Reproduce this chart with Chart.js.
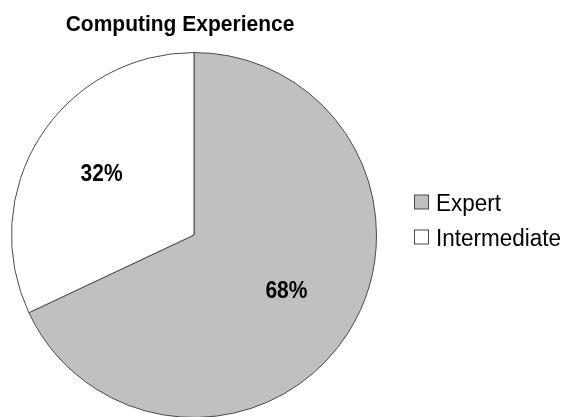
<!DOCTYPE html>
<html>
<head>
<meta charset="utf-8">
<title>Computing Experience</title>
<script src="https://cdn.jsdelivr.net/npm/chart.js@4"></script>
<style>
  html, body { margin: 0; padding: 0; background: #fff; overflow: hidden; }
  #wrap { width: 568px; height: 417px; overflow: hidden; }
  canvas { display: block; }
</style>
</head>
<body>
<div id="wrap"><canvas id="pieChart" width="568" height="420"></canvas></div>
<script>
// Data
const chartTitle = 'Computing Experience';
const categories = ['Expert', 'Intermediate'];
const shares = [68, 32];
const sliceColors = ['#c0c0c0', '#ffffff'];
const edgeColor = '#4a4a4a';
const fontFamily = '"Liberation Sans", Arial, Helvetica, sans-serif';

// text drawn slightly taller than the font's natural shape
function tallText(ctx, text, x, y, stretch) {
    ctx.save();
    ctx.translate(x, y);
    ctx.scale(1, stretch);
    ctx.fillText(text, 0, 0);
    ctx.restore();
}

// Title, legend and percentage labels are painted by hand
const decorations = {
    id: 'decorations',
    afterDatasetsDraw(chart) {
        const ctx = chart.ctx;
        const meta = chart.getDatasetMeta(0);
        const total = shares.reduce((a, b) => a + b, 0);

        ctx.save();
        ctx.fillStyle = '#000';
        ctx.font = 'bold 21px ' + fontFamily;
        ctx.textAlign = 'center';
        ctx.textBaseline = 'middle';
        meta.data.forEach((arc, i) => {
            const mid = (arc.startAngle + arc.endAngle) / 2;
            const r = arc.outerRadius * 0.6;
            const x = arc.x + Math.cos(mid) * r;
            const y = arc.y + Math.sin(mid) * r;
            tallText(ctx, Math.round(shares[i] / total * 100) + '%', x, y - 2, 1.12);
        });
        ctx.restore();
    },
    afterDraw(chart) {
        const ctx = chart.ctx;
        ctx.save();

        // title
        ctx.fillStyle = '#000';
        ctx.font = 'bold 21px ' + fontFamily;
        ctx.textAlign = 'center';
        ctx.textBaseline = 'alphabetic';
        tallText(ctx, chartTitle, 180, 31, 1.08);

        // legend
        ctx.font = '22.5px ' + fontFamily;
        ctx.textAlign = 'left';
        ctx.textBaseline = 'alphabetic';
        categories.forEach((name, i) => {
            const y = 202 + i * 35;
            ctx.fillStyle = sliceColors[i];
            ctx.fillRect(414.5, y - 7, 14, 14);
            ctx.strokeStyle = edgeColor;
            ctx.lineWidth = 1;
            ctx.strokeRect(414.5, y - 7, 14, 14);
            ctx.fillStyle = '#000';
            tallText(ctx, name, 436, y + 9, 1.05);
        });
        ctx.restore();
    }
};

new Chart(document.getElementById('pieChart'), {
    type: 'pie',
    data: {
        labels: categories,
        datasets: [{
            data: shares,
            backgroundColor: sliceColors,
            borderColor: edgeColor,
            borderWidth: 1,
            hoverOffset: 0
        }]
    },
    options: {
        responsive: false,
        animation: false,
        devicePixelRatio: 1,
        layout: {
            padding: { left: 11, top: 52, right: 191, bottom: 2 }
        },
        plugins: {
            legend: { display: false },
            title: { display: false },
            tooltip: { enabled: false }
        },
        events: []
    },
    plugins: [decorations]
});
</script>
</body>
</html>
